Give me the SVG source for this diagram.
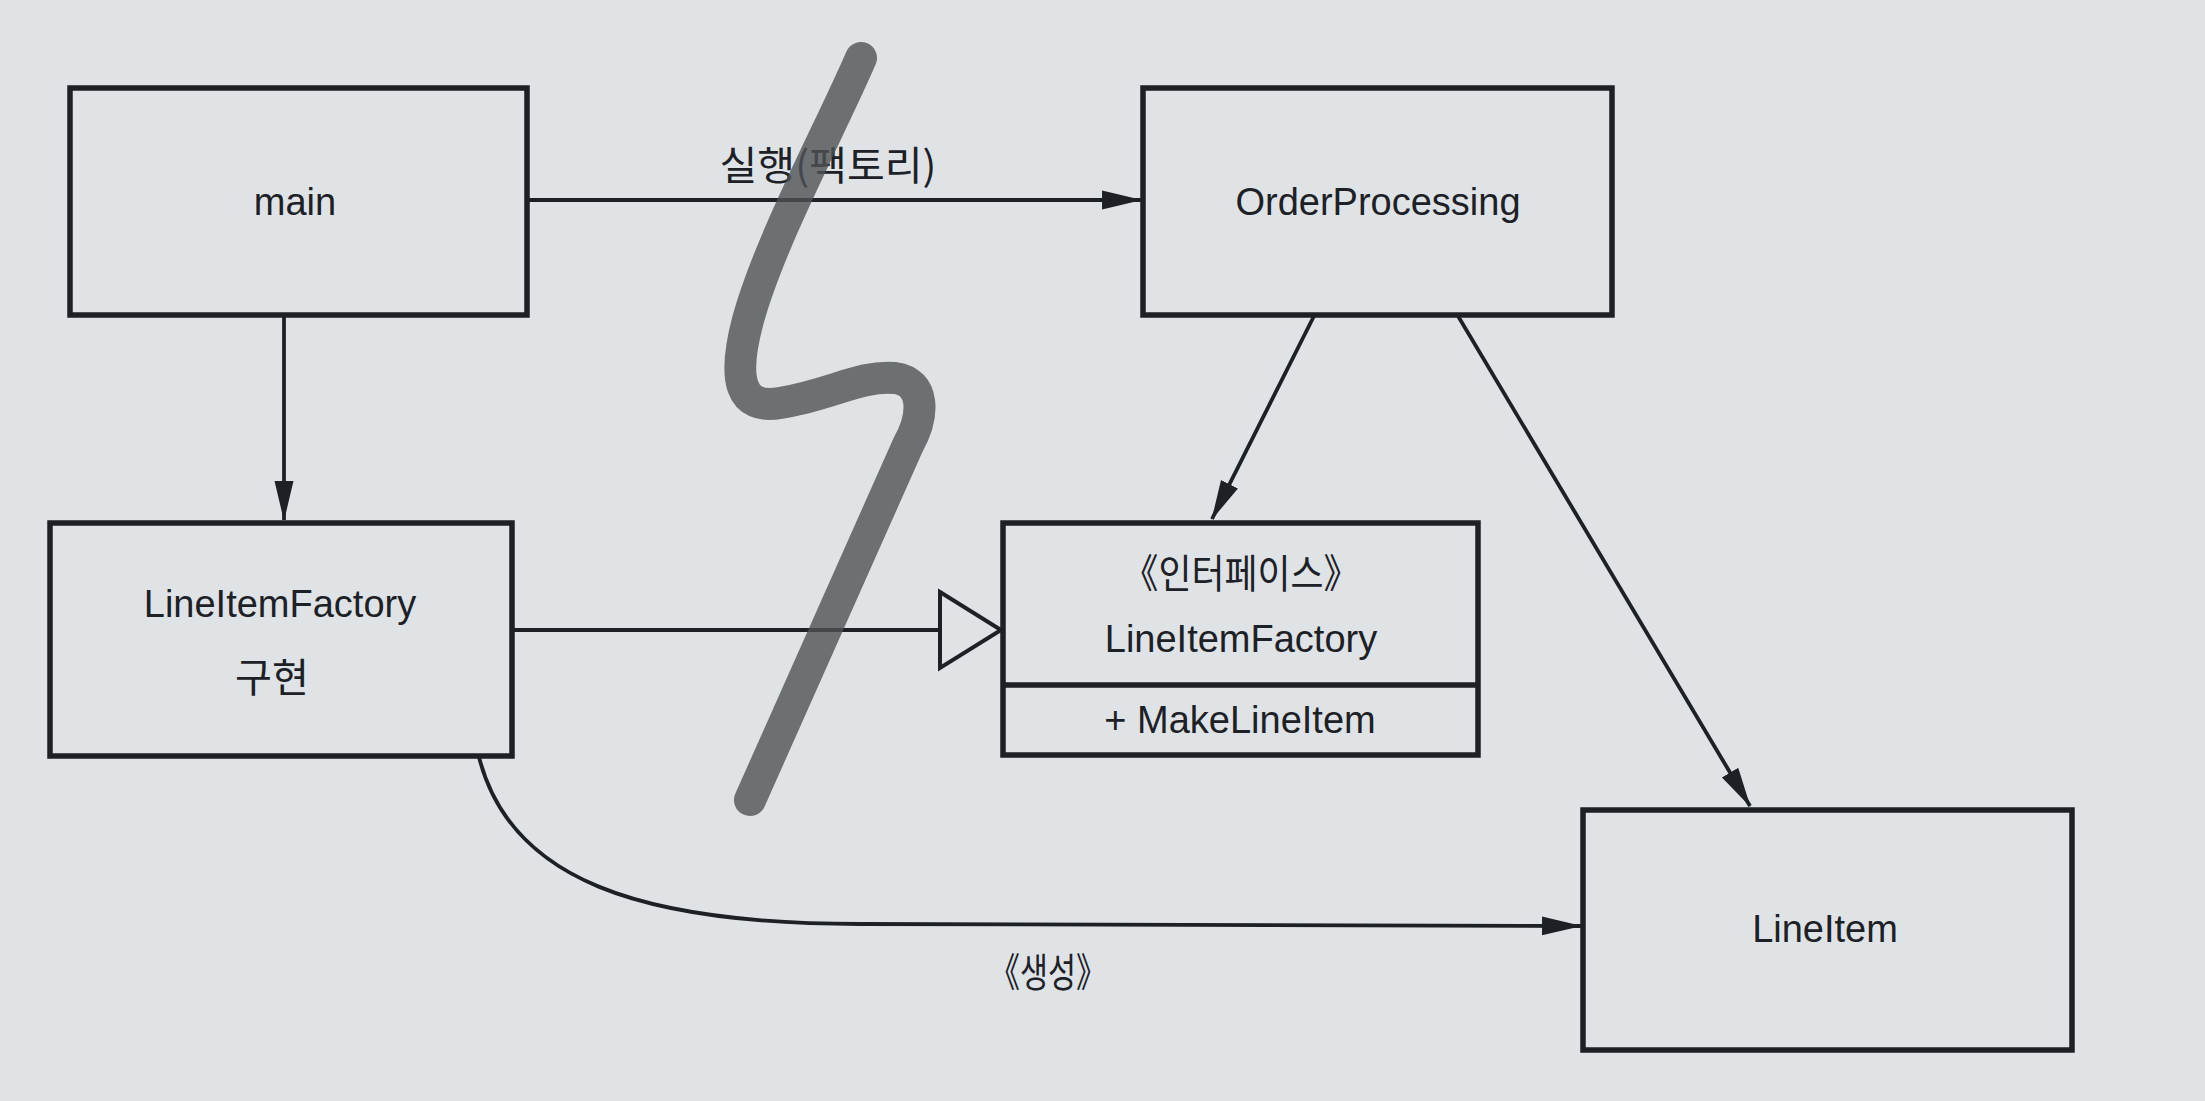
<svg xmlns="http://www.w3.org/2000/svg" width="2205" height="1101" viewBox="0 0 2205 1101">
<style>
.box{fill:none;stroke:#1d2125;stroke-width:5.5}
.conn{fill:none;stroke:#1d2125;stroke-width:3.8}
.t{font-family:"Liberation Sans","Noto Sans CJK KR",sans-serif;font-size:38px;fill:#1d2125;text-anchor:middle}
.k{font-family:"Noto Sans CJK KR","Liberation Sans",sans-serif;font-size:40px;fill:#1d2125;text-anchor:middle}
</style>
<defs>
<marker id="arr" markerUnits="userSpaceOnUse" markerWidth="40" markerHeight="24" viewBox="0 0 38 20" refX="37" refY="10" orient="auto">
<path d="M0,1 L38,10 L0,19 Z" fill="#1d2125"/>
</marker>
</defs>
<rect width="2205" height="1101" fill="#dfe3e6"/>
<g id="connectors">
<line class="conn" x1="527" y1="200" x2="1141" y2="200" marker-end="url(#arr)"/>
<line class="conn" x1="284" y1="316" x2="284" y2="520" marker-end="url(#arr)"/>
<line class="conn" x1="1314" y1="316" x2="1212" y2="519" marker-end="url(#arr)"/>
<line class="conn" x1="1458" y1="316" x2="1750" y2="806" marker-end="url(#arr)"/>
<line class="conn" x1="511" y1="630" x2="940" y2="630"/>
<path d="M940,592 L1001,630 L940,668 Z" fill="#dfe3e6" stroke="#1d2125" stroke-width="4" stroke-linejoin="miter"/>
<path class="conn" d="M479,757 C510,880 640,924 860,924 L1581,926" marker-end="url(#arr)"/>
<text class="k" x="828" y="180" textLength="217" lengthAdjust="spacingAndGlyphs">실행(팩토리)</text>
<text class="k" x="1048" y="987" textLength="117" lengthAdjust="spacingAndGlyphs">《생성》</text>
</g>
<g id="main">
<rect class="box" x="70" y="88" width="457" height="227"/>
<text class="t" x="295" y="215">main</text>
</g>
<g id="OrderProcessing">
<rect class="box" x="1143" y="88" width="469" height="227"/>
<text class="t" x="1378" y="215">OrderProcessing</text>
</g>
<g id="LineItemFactoryImpl">
<rect class="box" x="50" y="523" width="462" height="233"/>
<text class="t" x="280" y="617">LineItemFactory</text>
<text class="k" x="272" y="692" textLength="74" lengthAdjust="spacingAndGlyphs">구현</text>
</g>
<g id="LineItemFactoryInterface">
<rect class="box" x="1003" y="523" width="475" height="232"/>
<line class="box" x1="1003" y1="685" x2="1478" y2="685"/>
<text class="k" x="1241" y="588" textLength="237" lengthAdjust="spacingAndGlyphs">《인터페이스》</text>
<text class="t" x="1241" y="652" font-size="39">LineItemFactory</text>
<text class="t" x="1240" y="733" font-size="39">+ MakeLineItem</text>
</g>
<g id="LineItem">
<rect class="box" x="1583" y="810" width="489" height="240"/>
<text class="t" x="1825" y="942">LineItem</text>
</g>
<g id="squiggle">
<path d="M861,58 C830,130 770,240 748,320 C732,380 740,410 780,403 C830,395 860,375 895,378 C925,382 925,415 908,445 L750,800" fill="none" stroke="#4f5255" stroke-opacity="0.8" stroke-width="32" stroke-linecap="round" stroke-linejoin="round"/>
</g>
</svg>
